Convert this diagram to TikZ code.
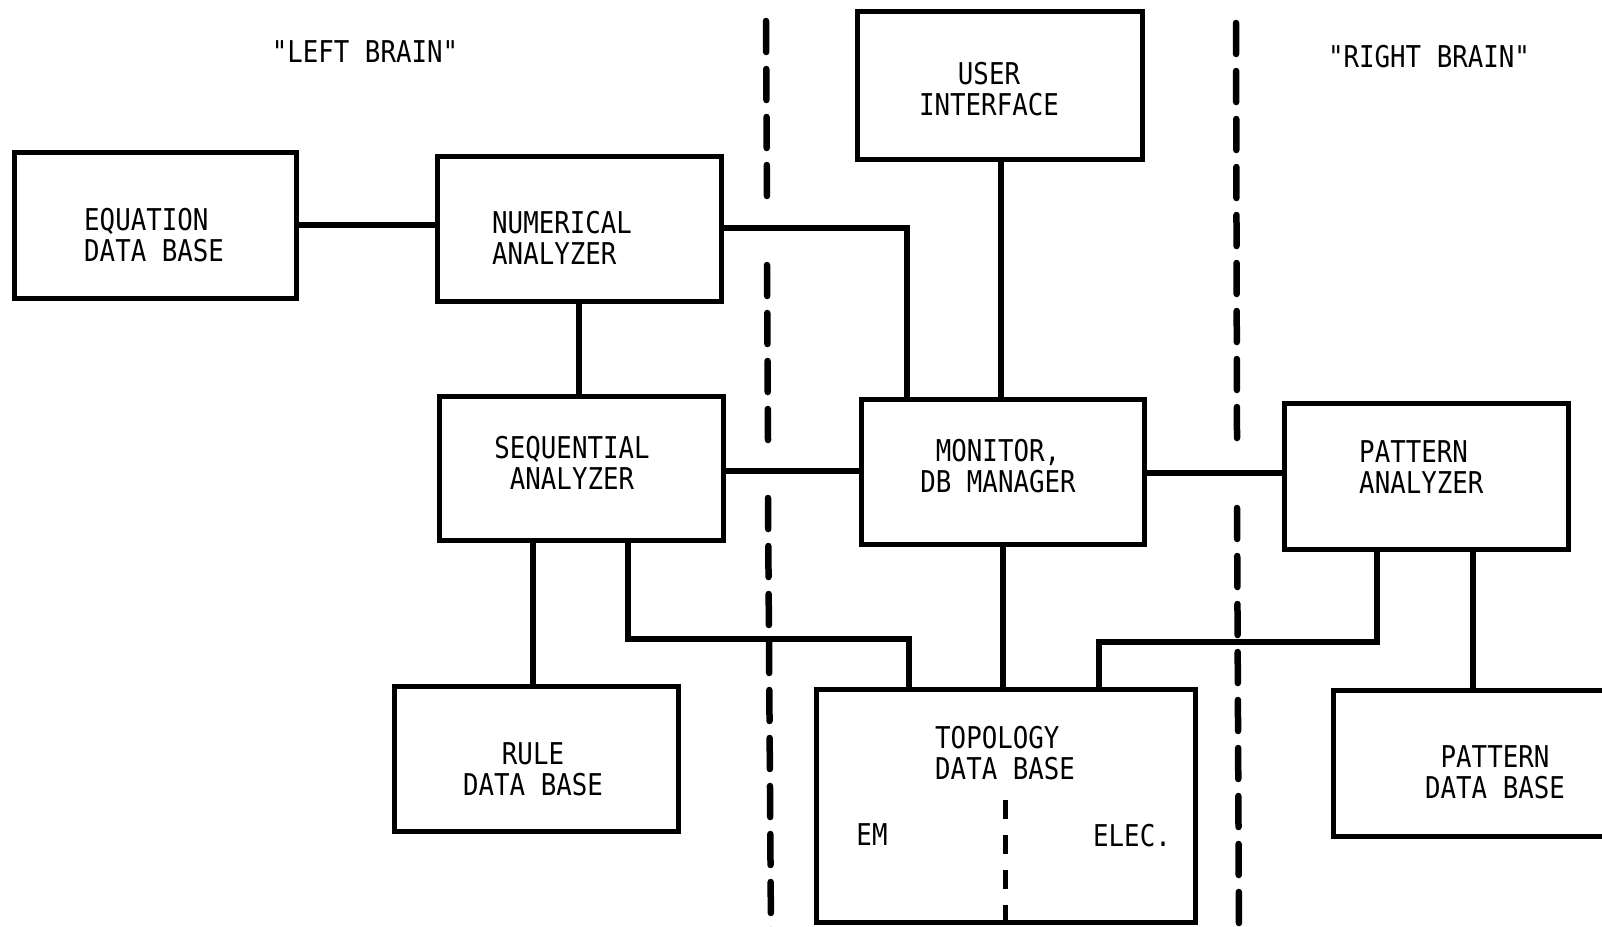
\documentclass[tikz,border=0pt]{standalone}
\usepackage{fontspec}
\newfontfamily\diagfont[FakeStretch=0.86]{DejaVu Sans Mono}
\begin{document}
\begin{tikzpicture}[x=1pt,y=-1pt,
  blockbox/.style={draw,line width=5pt,inner sep=0pt},
  wire/.style={line width=6pt},
  txt/.style={font=\diagfont\fontsize{30}{31}\selectfont,inner sep=0pt},
  divider/.style={line width=6.5pt,line cap=round,dash pattern=on 31pt off 17pt},
  subdivider/.style={line width=5pt,dash pattern=on 19pt off 16pt}]
\useasboundingbox (0,0) rectangle (1602,926);
\clip (0,0) rectangle (1602,926);

% hemisphere separators, broken where the wires pass
\coordinate (la1) at (766,21);   \coordinate (la2) at (767,204);
\coordinate (lb1) at (767,265);  \coordinate (lb2) at (768,441);
\coordinate (lc1) at (768,498);  \coordinate (lc2) at (771,935);
\coordinate (ra1) at (1236,23);  \coordinate (ra2) at (1237,438);
\coordinate (rb1) at (1237,508); \coordinate (rb2) at (1239,935);
\draw[divider] (la1) -- (la2);
\draw[divider] (lb1) -- (lb2);
\draw[divider] (lc1) -- (lc2);
\draw[divider] (ra1) -- (ra2);
\draw[divider] (rb1) -- (rb2);

\node[txt] (lefthead) at (365,52) {"LEFT BRAIN"};
\node[txt] (righthead) at (1429,57) {"RIGHT BRAIN"};

% blocks
\node[blockbox,minimum width=282pt,minimum height=146pt] (eq) at (155,225) {};
\node[blockbox,minimum width=284pt,minimum height=145pt] (num) at (579,228.5) {};
\node[blockbox,minimum width=284pt,minimum height=144pt] (seq) at (581,468) {};
\node[blockbox,minimum width=284pt,minimum height=145pt] (rule) at (536,758.5) {};
\node[blockbox,minimum width=379pt,minimum height=233pt] (topo) at (1005.5,805.5) {};
\node[blockbox,minimum width=285pt,minimum height=148pt] (user) at (999.5,85) {};
\node[blockbox,minimum width=283pt,minimum height=145pt] (mon) at (1002.5,471.5) {};
\node[blockbox,minimum width=284pt,minimum height=146pt] (pat) at (1426,476) {};
\node[blockbox,minimum width=317pt,minimum height=146pt] (patdb) at (1491.5,763) {};

% block texts
\node[txt,anchor=west,align=left] (eqt) at (84,235) {EQUATION\\DATA BASE};
\node[txt,anchor=west,align=left] (numt) at (492,238) {NUMERICAL\\ANALYZER};
\node[txt,align=center] (seqt) at (572,463) {SEQUENTIAL\\ANALYZER};
\node[txt,align=center] (rulet) at (533,769) {RULE\\DATA BASE};
\node[txt,anchor=west,align=left] (topot) at (935,753) {TOPOLOGY\\DATA BASE};
\node[txt] (emt) at (872,835) {EM};
\node[txt] (elect) at (1132,836) {ELEC.};
\node[txt,align=center] (usert) at (989,89) {USER\\INTERFACE};
\node[txt,align=center] (mont) at (998,466) {MONITOR,\\DB MANAGER};
\node[txt,anchor=west,align=left] (patt) at (1359,467) {PATTERN\\ANALYZER};
\node[txt,align=center] (patdbt) at (1495,772) {PATTERN\\DATA BASE};

% split inside the topology base
\coordinate (d1) at (1005,800);
\coordinate (d2) at (1005,935);
\draw[subdivider] (d1) -- (d2);

% bend points and wire lines
\coordinate (nb) at (907,228);
\coordinate (sb1) at (628,639);
\coordinate (sb2) at (909,639);
\coordinate (pb1) at (1377,642);
\coordinate (pb2) at (1099,642);
\coordinate (xe) at (0,225);
\coordinate (xs) at (0,471);
\coordinate (xm) at (0,473);
\coordinate (vn) at (579,0);
\coordinate (vu) at (1001,0);
\coordinate (vr) at (533,0);
\coordinate (vm) at (1003,0);
\coordinate (vp) at (1473,0);

% connectors
\draw[wire] (eq.east |- xe) -- (num.west |- xe);
\draw[wire] (num.east |- nb) -- (nb) -- (mon.north -| nb);
\draw[wire] (num.south -| vn) -- (seq.north -| vn);
\draw[wire] (user.south -| vu) -- (mon.north -| vu);
\draw[wire] (seq.east |- xs) -- (mon.west |- xs);
\draw[wire] (mon.east |- xm) -- (pat.west |- xm);
\draw[wire] (seq.south -| vr) -- (rule.north -| vr);
\draw[wire] (seq.south -| sb1) -- (sb1) -- (sb2) -- (topo.north -| sb2);
\draw[wire] (mon.south -| vm) -- (topo.north -| vm);
\draw[wire] (pat.south -| pb1) -- (pb1) -- (pb2) -- (topo.north -| pb2);
\draw[wire] (pat.south -| vp) -- (patdb.north -| vp);
\end{tikzpicture}
\end{document}
